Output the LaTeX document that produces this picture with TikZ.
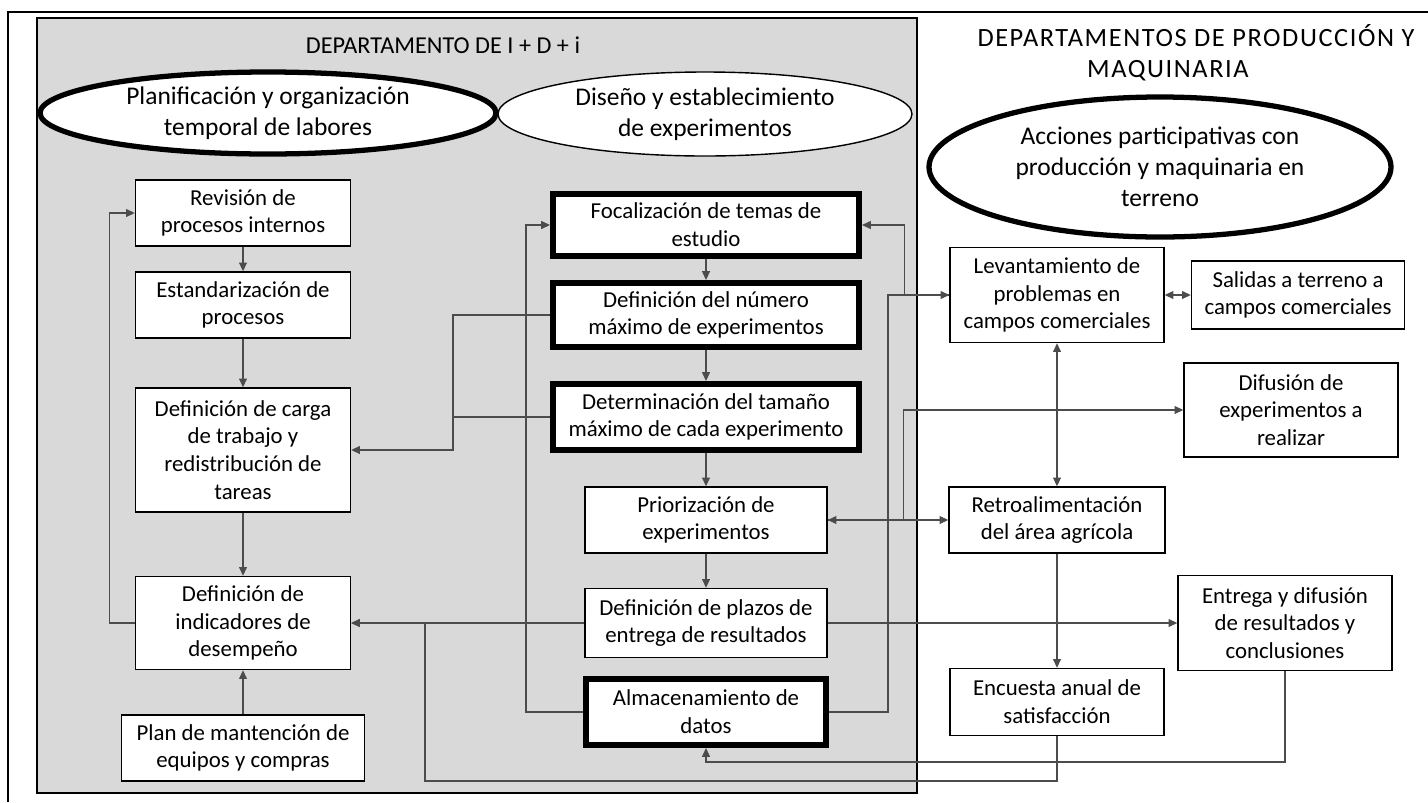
\documentclass[tikz,border=0pt]{standalone}
\usepackage{fontspec}
\setmainfont{Carlito}
\newfontfamily\titlefont{Carlito}
\newfontfamily\widetitlefont[LetterSpace=6]{Carlito}
\usetikzlibrary{arrows.meta}

\tikzset{
  box/.style={draw,fill=white,line width=0.8pt,align=center,inner sep=0pt,
    font=\fontsize{13}{15.8}\selectfont},
  thickbox/.style={box,line width=3.4pt},
  dims/.style 2 args={minimum width=#1*0.02cm,minimum height=#2*0.02cm},
  ovaltext/.style={align=center,inner sep=0pt,font=\fontsize{14.5}{17.5}\selectfont},
  link/.style={draw=black!70,line width=0.6pt,-{Triangle[length=5pt,width=4.5pt]}},
  dlink/.style={draw=black!70,line width=0.6pt,
    {Triangle[length=5pt,width=4.5pt]}-{Triangle[length=5pt,width=4.5pt]}},
  plain/.style={draw=black!70,line width=0.6pt}
}

\begin{document}
\begin{tikzpicture}[x=0.02cm,y=-0.02cm]
  \useasboundingbox (0,0) rectangle (1428,802);
  % frame and department panel
  \draw[line width=1.2pt] (8,802) -- (8,12) -- (1428,12);
  \draw[line width=1.2pt,fill=black!15] (37,18) rectangle (917,793);

  \node[font=\titlefont\fontsize{13.8}{17}\selectfont] (t1) at (443,45)
  {DEPARTAMENTO DE I + D + i};
  \node[font=\widetitlefont\fontsize{15}{17.5}\selectfont,align=center] (t2) at (1196,53)
  {DEPARTAMENTOS DE PRODUCCIÓN Y\\MAQUINARIA\hspace*{32pt}};

  % ovals
  \draw[line width=0.8pt,fill=white] (705,114) ellipse [x radius=207,y radius=42];
  \node[ovaltext] (e2) at (705,114)
  {Diseño y establecimiento\\de experimentos};
  \draw[line width=3pt,fill=white] (268,113) ellipse [x radius=228,y radius=41];
  \node[ovaltext] (e1) at (268,113)
  {Planificación y organización\\temporal de labores};
  \draw[line width=3pt,fill=white] (1160,167) ellipse [x radius=231,y radius=70];
  \node[ovaltext] (e3) at (1160,167)
  {Acciones participativas con\\producción y maquinaria en\\terreno};

  % planning column
  \node[box,dims={215}{66}] (b1) at (243,213) {Revisión de\\procesos internos};
  \node[box,dims={215}{66}] (b2) at (243,305) {Estandarización de\\procesos};
  \node[box,dims={215}{124}] (b3) at (243,450)
  {Definición de carga\\de trabajo y\\redistribución de\\tareas};
  \node[box,dims={215}{93}] (b4) at (243,623)
  {Definición de\\indicadores de\\desempeño};
  \node[box,dims={243}{66}] (b5) at (243,748)
  {Plan de mantención de\\equipos y compras};

  % experiment column
  \node[thickbox,dims={306}{62}] (m1) at (706,225)
  {Focalización de temas de\\estudio};
  \node[thickbox,dims={306}{64}] (m2) at (706,315)
  {Definición del número\\máximo de experimentos};
  \node[thickbox,dims={306}{66}] (m3) at (706,417)
  {Determinación del tamaño\\máximo de cada experimento};
  \node[box,dims={242}{66}] (m4) at (706,520)
  {Priorización de\\experimentos};
  \node[box,dims={242}{69}] (m5) at (706,623)
  {Definición de plazos de\\entrega de resultados};
  \node[thickbox,dims={240}{66}] (m6) at (706,712)
  {Almacenamiento de\\datos};

  % production column
  \node[box,dims={214}{95}] (r1) at (1057,295)
  {Levantamiento de\\problemas en\\campos comerciales};
  \node[box,dims={213}{68}] (r2) at (1298,295)
  {Salidas a terreno a\\campos comerciales};
  \node[box,dims={214}{94}] (r3) at (1291,410)
  {Difusión de\\experimentos a\\realizar};
  \node[box,dims={216}{66}] (r4) at (1057,520)
  {Retroalimentación\\del área agrícola};
  \node[box,dims={214}{95}] (r5) at (1285,623)
  {Entrega y difusión\\de resultados y\\conclusiones};
  \node[box,dims={214}{67}] (r6) at (1057,702)
  {Encuesta anual de\\satisfacción};

  % links
  \draw[link] (b1.south) -- (b2.north);
  \draw[link] (b2.south) -- (b3.north);
  \draw[link] (b3.south) -- (b4.north);
  \draw[link] (b5.north) -- (b4.south);
  \draw[link] (b4.west) -- ++(-25,0) |- (b1.west);

  \draw[link] (m1.south) -- (m2.north);
  \draw[link] (m2.south) -- (m3.north);
  \draw[link] (m3.south) -- (m4.north);
  \draw[link] (m4.south) -- (m5.north);
  \draw[link] (m2.west) -- ++(-97,0) |- (b3.east);
  \draw[plain] (m3.west) -- ++(-97,0);
  \draw[link] (m6.west) -- ++(-57,0) |- (m1.west);
  \draw[link] (m5.west) -- (b4.east);
  \draw[link] (m5.east) -- (r5.west);

  \draw[link] (m6.east) -- ++(59,0) |- (r1.west);
  \draw[link] (r1.west) -- ++(-45,0) |- (m1.east);
  \draw[dlink] (m4.east) -- (r4.west);
  \draw[link] (m4.east) -- ++(76,0) |- (r3.west);

  \draw[dlink] (r1.east) -- (r2.west);
  \draw[dlink] (r1.south) -- (r4.north);
  \draw[link] (r4.south) -- (r6.north);
  \draw[link] (r5.south) |- (706,762) -- (m6.south);
  \draw[link] (r6.south) |- (425,781) |- (b4.east);
\end{tikzpicture}
\end{document}
